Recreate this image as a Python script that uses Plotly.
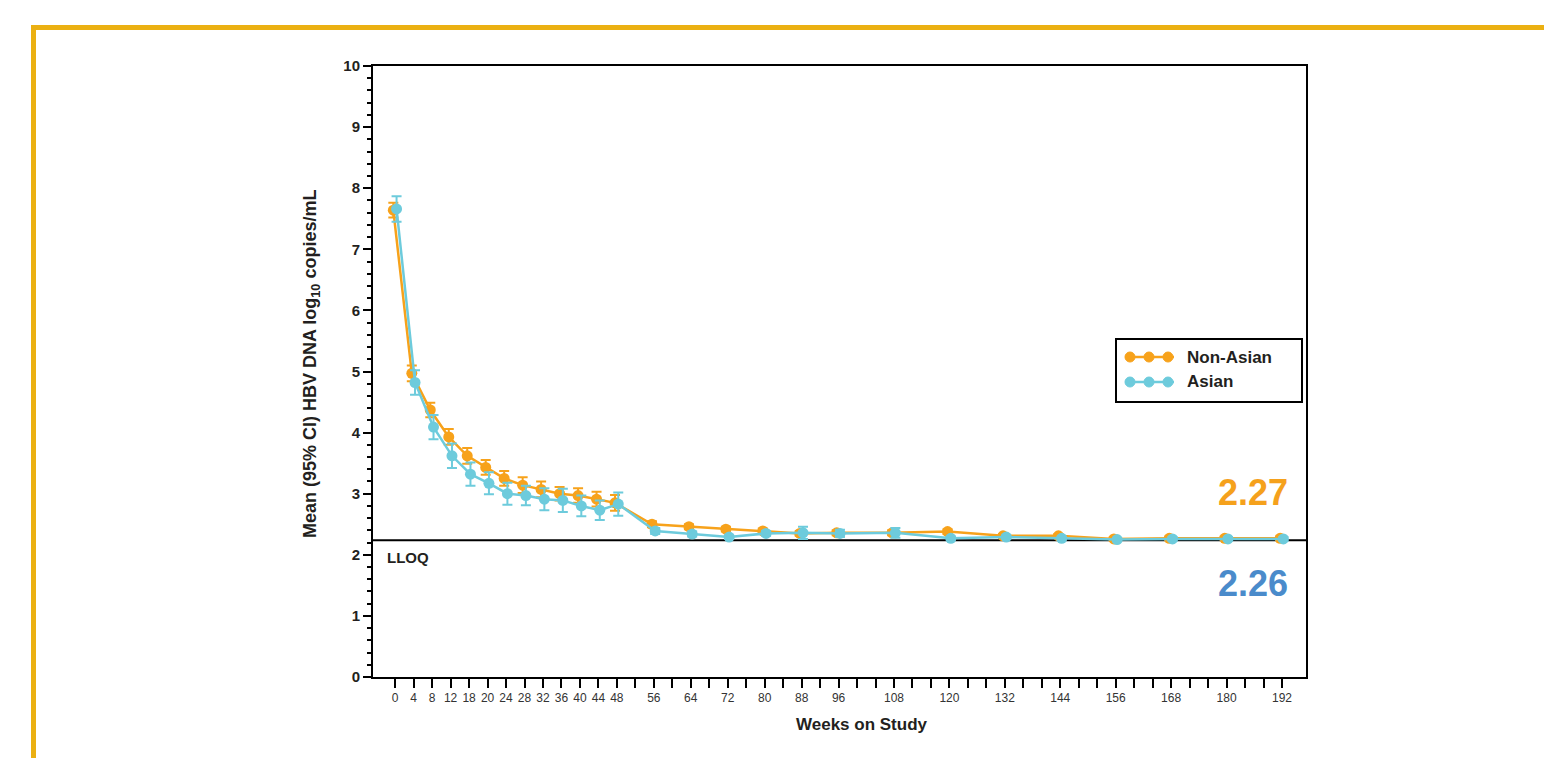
import plotly.graph_objects as go

# ---------------- data ----------------
weeks = [0, 4, 8, 12, 16, 20, 24, 28, 32, 36, 40, 44, 48,
         56, 64, 72, 80, 88, 96, 108, 120, 132, 144, 156, 168, 180, 192]

non_asian_mean = [7.64, 4.97, 4.37, 3.93, 3.62, 3.43, 3.25, 3.14, 3.07, 3.00, 2.97, 2.91, 2.85,
                  2.50, 2.46, 2.42, 2.39, 2.35, 2.36, 2.36, 2.38, 2.31, 2.31, 2.26, 2.27, 2.27, 2.27]
non_asian_ci = [0.12, 0.13, 0.12, 0.13, 0.13, 0.12, 0.12, 0.13, 0.13, 0.11, 0.12, 0.12, 0.13,
                0.05, 0.04, 0.04, 0.04, 0.04, 0.04, 0.04, 0.04, 0.03, 0.03, 0.03, 0.03, 0.03, 0.03]

asian_mean = [7.66, 4.82, 4.09, 3.62, 3.32, 3.17, 3.00, 2.97, 2.91, 2.89, 2.80, 2.73, 2.83,
              2.39, 2.34, 2.29, 2.35, 2.36, 2.35, 2.36, 2.27, 2.29, 2.27, 2.25, 2.26, 2.26, 2.26]
asian_ci = [0.21, 0.20, 0.20, 0.20, 0.19, 0.18, 0.18, 0.16, 0.18, 0.19, 0.17, 0.16, 0.19,
            0.05, 0.04, 0.03, 0.04, 0.10, 0.06, 0.08, 0.03, 0.03, 0.03, 0.03, 0.03, 0.03, 0.03]

lloq = 2.24
final_non_asian = "2.27"
final_asian = "2.26"

tick_weeks = list(range(0, 193, 4))
label_weeks = [0, 4, 8, 12, 16, 20, 24, 28, 32, 36, 40, 44, 48,
               56, 64, 72, 80, 88, 96, 108, 120, 132, 144, 156, 168, 180, 192]
label_texts = ["0", "4", "8", "12", "18", "20", "24", "28", "32", "36", "40", "44", "48",
               "56", "64", "72", "80", "88", "96", "108", "120", "132", "144", "156", "168", "180", "192"]

series_names = ["Non-Asian", "Asian"]

# ---------------- style ----------------
ORANGE = "#F7A21B"
CYAN = "#6DCBDC"
ORANGE_TXT = "#F5A11C"
BLUE_TXT = "#4A8BCB"
GOLD = "#EBB012"
FONT = "Arial, Liberation Sans, sans-serif"
DODGE_O = -0.4
DODGE_A = 0.3

lab_map = dict(zip(label_weeks, label_texts))
ticktext = [lab_map.get(w, " ") for w in tick_weeks]

fig = go.Figure()


def add_series(name, means, ci, color, dodge):
    fig.add_trace(go.Scatter(
        x=[w + dodge for w in weeks], y=means, name=name, mode="lines+markers",
        line=dict(color=color, width=2.5),
        marker=dict(color=color, size=11, symbol="circle"),
        error_y=dict(type="data", array=ci, visible=True, color=color, thickness=2, width=5),
        showlegend=False,
    ))


add_series(series_names[0], non_asian_mean, non_asian_ci, ORANGE, DODGE_O)
add_series(series_names[1], asian_mean, asian_ci, CYAN, DODGE_A)

L, R, T, B = 373, 238, 66, 81
W, H = 1544, 758
pw = W - L - R
ph = H - T - B


def px(x):
    return (x - L) / pw


def py(y):
    return (H - B - y) / ph


shapes = []
# LLOQ line
shapes.append(dict(type="line", xref="paper", yref="y", x0=0, x1=1, y0=lloq, y1=lloq,
                   line=dict(color="black", width=2), layer="below"))
# gold frame
shapes.append(dict(type="rect", xref="paper", yref="paper",
                   x0=px(33.5), x1=px(1570), y0=py(780), y1=py(27.5),
                   line=dict(color=GOLD, width=5)))
# custom legend box
shapes.append(dict(type="rect", xref="paper", yref="paper",
                   x0=px(1116), x1=px(1302), y0=py(402), y1=py(339),
                   line=dict(color="black", width=2), fillcolor="white"))
annotations = []
for i, (nm, col, yy) in enumerate([(series_names[0], ORANGE, 357), (series_names[1], CYAN, 382)]):
    shapes.append(dict(type="line", xref="paper", yref="paper",
                       x0=px(1125), x1=px(1174), y0=py(yy), y1=py(yy),
                       line=dict(color=col, width=2.5)))
    for cx in (1130, 1149, 1168):
        shapes.append(dict(type="circle", xref="paper", yref="paper",
                           x0=px(cx - 5), x1=px(cx + 5), y0=py(yy + 5), y1=py(yy - 5),
                           line=dict(color=col, width=1), fillcolor=col))
    annotations.append(dict(xref="paper", yref="paper", x=px(1185), y=py(yy),
                            xanchor="left", yanchor="middle", showarrow=False,
                            text="<b>%s</b>" % nm, font=dict(family=FONT, size=17, color="#231F20")))

annotations += [
    dict(xref="paper", yref="paper", x=px(1290), y=py(492), xanchor="right", yanchor="middle",
         showarrow=False, text="<b>%s</b>" % final_non_asian,
         font=dict(family=FONT, size=36, color=ORANGE_TXT)),
    dict(xref="paper", yref="paper", x=px(1290), y=py(583), xanchor="right", yanchor="middle",
         showarrow=False, text="<b>%s</b>" % final_asian,
         font=dict(family=FONT, size=36, color=BLUE_TXT)),
    dict(xref="paper", yref="paper", x=px(385), y=py(557), xanchor="left", yanchor="middle",
         showarrow=False, text="<b>LLOQ</b>", font=dict(family=FONT, size=15, color="#231F20")),
    dict(xref="paper", yref="paper", x=px(862), y=py(724), xanchor="center", yanchor="middle",
         showarrow=False, text="<b>Weeks on Study</b>", font=dict(family=FONT, size=17, color="#231F20")),
    dict(xref="paper", yref="paper", x=px(311), y=py(364), xanchor="center", yanchor="middle",
         showarrow=False, textangle=-90,
         text="<b>Mean (95% CI) HBV DNA log<sub>10</sub> copies/mL</b>",
         font=dict(family=FONT, size=18, color="#231F20")),
]

fig.update_layout(
    width=W, height=H,
    margin=dict(l=L, r=R, t=T, b=B, pad=0),
    paper_bgcolor="white", plot_bgcolor="white",
    showlegend=False,
    shapes=shapes, annotations=annotations,
    font=dict(family=FONT, color="#231F20"),
)
fig.update_xaxes(
    range=[-4.8, 197.2], tickmode="array", tickvals=tick_weeks, ticktext=ticktext,
    ticks="outside", ticklen=9, tickwidth=2, tickcolor="black",
    showline=True, linecolor="black", linewidth=2, mirror=True,
    showgrid=False, zeroline=False,
    tickfont=dict(family=FONT, size=12, color="#333333"),
)
fig.update_yaxes(
    range=[0, 10], dtick=1, tick0=0,
    ticks="outside", ticklen=8, tickwidth=2, tickcolor="black",
    minor=dict(dtick=0.2, ticks="outside", ticklen=4, tickwidth=2, tickcolor="black", showgrid=False),
    showline=True, linecolor="black", linewidth=2, mirror=True,
    showgrid=False, zeroline=False,
    tickfont=dict(family=FONT, size=15, color="#231F20", weight="bold"),
)

fig.write_html("out.html")
